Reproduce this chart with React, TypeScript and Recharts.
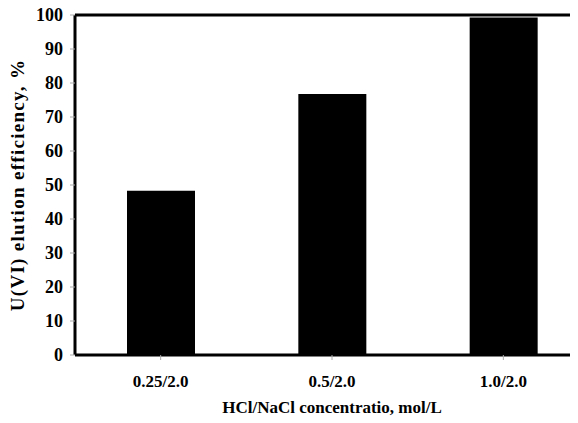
import React from 'react';
import { BarChart, Bar, XAxis, YAxis, ReferenceLine } from 'recharts';

// Elution conditions (HCl/NaCl, mol/L) and U(VI) elution efficiency (%)
const categories = ['0.25/2.0', '0.5/2.0', '1.0/2.0'];
const efficiency = [48.3, 76.8, 99.3];
const yTicks = [0, 10, 20, 30, 40, 50, 60, 70, 80, 90, 100];

const data = categories.map((c, i) => ({ name: c, value: efficiency[i] }));

const FONT = "'Times New Roman', 'Liberation Serif', serif";

export default function App() {
  return (
    <div
      style={{
        margin: '-8px 0 0 -8px',
        width: 578,
        height: 423,
        overflow: 'hidden',
        fontFamily: FONT,
        fontWeight: 'bold',
      }}
    >
      <BarChart
        width={608}
        height={423}
        data={data}
        margin={{ top: 15, right: 19, bottom: 0, left: 8 }}
        barCategoryGap="30%"
        style={{ fontFamily: FONT }}
      >
        <XAxis
          dataKey="name"
          height={68}
          axisLine={{ stroke: '#000', strokeWidth: 3 }}
          tickLine={{ stroke: '#aaa' }}
          tickSize={5}
          tickMargin={15}
          interval={0}
          tick={{ fill: '#000', style: { fontFamily: FONT, fontWeight: 'bold' }, fontSize: 17 }}
          label={{
            value: 'HCl/NaCl concentratio, mol/L',
            position: 'insideBottom',
            offset: 10,
            style: { fill: '#000', fontFamily: FONT, fontWeight: 'bold', fontSize: 17 },
          }}
        />
        <YAxis
          domain={[0, 100]}
          ticks={yTicks}
          width={67}
          axisLine={{ stroke: '#000', strokeWidth: 3 }}
          tickLine={{ stroke: '#aaa' }}
          tickSize={5}
          tickMargin={7}
          interval={0}
          tick={{ fill: '#000', style: { fontFamily: FONT, fontWeight: 'bold' }, fontSize: 18 }}
          label={{
            value: 'U(VI) elution efficiency, %',
            angle: -90,
            position: 'insideLeft',
            offset: 9,
            style: {
              fill: '#000',
              fontFamily: FONT,
              fontWeight: 'bold',
              fontSize: 19,
              letterSpacing: 1.3,
              textAnchor: 'middle',
            },
          }}
        />
        <YAxis
          yAxisId="right"
          orientation="right"
          width={0}
          tick={false}
          tickLine={false}
          axisLine={{ stroke: '#000', strokeWidth: 3 }}
        />
        <ReferenceLine y={100} stroke="#000" strokeWidth={3} />
        <Bar dataKey="value" fill="#000" barSize={68} isAnimationActive={false} />
      </BarChart>
    </div>
  );
}
